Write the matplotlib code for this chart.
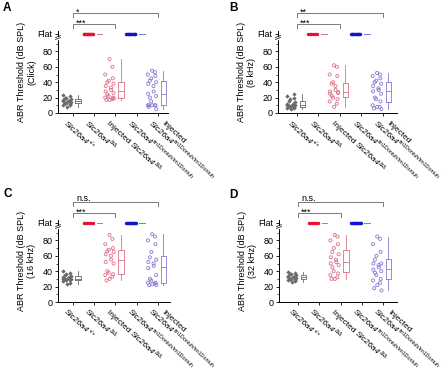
import numpy as np
import matplotlib
matplotlib.use("Agg")
from matplotlib import pyplot as plt
from matplotlib.transforms import ScaledTranslation

plt.rcParams['font.family'] = ['Liberation Sans', 'DejaVu Sans']
plt.rcParams['font.size'] = 6

# thresholds (dB SPL)
wt_click = [8, 10, 11, 12, 13, 13, 14, 15, 15, 16, 17, 18, 19, 20, 22, 24]
inj_del_click = [70, 60, 50, 45, 42, 40, 38, 35, 33, 30, 28, 26, 24, 22, 20, 20, 18, 17, 17, 19]
inj_tm_click = [55, 53, 50, 48, 45, 42, 40, 38, 35, 28, 25, 22, 20, 15, 10, 10, 10, 10, 10, 5, 8]

wt_8k = [5, 6, 7, 8, 8, 9, 10, 10, 11, 12, 12, 14, 15, 18, 20, 22, 25]
inj_del_8k = [62, 60, 50, 48, 40, 38, 27, 25, 35, 30, 28, 26, 22, 20, 18, 15, 12, 8]
inj_tm_8k = [52, 50, 48, 45, 42, 40, 38, 35, 32, 30, 28, 25, 20, 18, 15, 10, 8, 8, 6, 5]

wt_16k = [23, 25, 27, 28, 29, 30, 30, 30, 31, 32, 33, 34, 35, 36, 38, 40]
inj_del_16k = [87, 82, 75, 70, 68, 66, 65, 62, 60, 55, 52, 50, 40, 38, 36, 35, 33, 30, 28]
inj_tm_16k = [88, 85, 80, 75, 65, 58, 55, 52, 50, 47, 44, 35, 30, 28, 25, 25, 24, 23, 22, 22]

wt_32k = [26, 27, 28, 29, 30, 30, 31, 32, 33, 33, 34, 35, 36, 37, 38, 39]
inj_del_32k = [87, 85, 80, 75, 70, 65, 62, 58, 55, 52, 50, 48, 45, 40, 37, 35, 32, 30, 30]
inj_tm_32k = [85, 82, 75, 65, 60, 55, 50, 50, 48, 45, 42, 40, 38, 35, 30, 28, 25, 22, 18, 15]

# animals with no response ("Flat")
flat_del_n = [12, 6, 6, 6]
flat_tm_n = [12, 12, 12, 12]
FLAT = 103

freq_labels = ['(Click)', '(8 kHz)', '(16 kHz)', '(32 kHz)']
panel_letters = ['A', 'B', 'C', 'D']
sig_long = ['*', '**', 'n.s.', 'n.s.']
sig_short = ['***', '***', '***', '***']

# (prefix, gene, superscript) for each group label
group_prefix = ['', '', 'Injected ', '', '']
group_gene = ['Slc26a4'] * 5
group_sup = ['+/+', 'Δ/Δ', 'Δ/Δ', 'tm1Dontuh/tm1Dontuh', 'tm1Dontuh/tm1Dontuh']

W, H = 445, 371
fig = plt.figure(figsize=(W / 100, H / 100), dpi=100)
renderer = fig.canvas.get_renderer()

PX_PER_DB = 0.77
YTOP = 106
ROT = 43

# left spine px, zero-line px, width px, xlim
layout = [(58, 113, 110, (0.30, 5.47)),
          (278, 113, 119, (0.12, 5.65)),
          (58, 302, 112, (0.30, 5.56)),
          (279, 302, 118, (0.11, 5.65))]
letter_pos = [(3, 2), (229, 2), (3, 188), (229, 189)]

c_wt = '#6b6b6b'
c_red = '#e8102a'
c_red_l = '#e07088'
c_blue = '#1414cc'
c_blue_l = '#8578d6'


def text_width(s, size, style='normal'):
    t = fig.text(0, 0, s, fontsize=size, style=style)
    w = t.get_window_extent(renderer).width
    t.remove()
    return w


def jitter(n):
    return -0.28 + 0.2 * np.sin(np.arange(n) * 2.39996)


def rotated_label(ax, x, pieces, start_px):
    # pieces: (text, size, style, raise_px); drawn along a -ROT degree baseline
    ux, uy = np.cos(np.radians(ROT)), -np.sin(np.radians(ROT))
    nx, ny = -uy, ux
    along = 0.0
    for s, size, style, rise in pieces:
        ox = start_px[0] + along * ux + rise * nx
        oy = start_px[1] + along * uy + rise * ny
        tr = ax.transData + ScaledTranslation(ox / 100, oy / 100, fig.dpi_scale_trans)
        ax.text(x, 0, s, fontsize=size, style=style, rotation=-ROT, rotation_mode='anchor',
                ha='left', va='baseline', transform=tr, clip_on=False)
        along += text_width(s, size, style)


def draw_panel(i, wt, inj_del, inj_tm):
    left, y0, width, xlim = layout[i]
    hpx = YTOP * PX_PER_DB
    ax = fig.add_axes([left / W, 1 - y0 / H, width / W, hpx / H])
    ax.set_xlim(*xlim)
    ax.set_ylim(0, YTOP)
    for s in ['top', 'right']:
        ax.spines[s].set_visible(False)
    for s in ['left', 'bottom']:
        ax.spines[s].set_linewidth(0.7)

    # scatter columns
    ax.scatter(1 + jitter(len(wt)), wt, s=5, marker='D', color=c_wt, linewidths=0, zorder=3)
    ax.scatter(3 + jitter(len(inj_del)), inj_del, s=5, facecolors='none', edgecolors=c_red_l,
               linewidths=0.6, zorder=3)
    ax.scatter(5 + jitter(len(inj_tm)), inj_tm, s=5, facecolors='none', edgecolors=c_blue_l,
               linewidths=0.6, zorder=3)
    nd, nt = flat_del_n[i], flat_tm_n[i]
    ax.scatter(2 + np.linspace(-0.5, -0.06, nd), [FLAT] * nd, s=6, color=c_red, linewidths=0,
               zorder=3, clip_on=False)
    ax.scatter(4 + np.linspace(-0.5, -0.06, nt), [FLAT] * nt, s=6, color=c_blue, linewidths=0,
               zorder=3, clip_on=False)

    # boxes
    data = [wt, [FLAT] * nd, inj_del, [FLAT] * nt, inj_tm]
    cols = [c_wt, c_red_l, c_red_l, c_blue_l, c_blue_l]
    for k, (d, c) in enumerate(zip(data, cols)):
        ax.boxplot([d], positions=[k + 1.25], widths=0.26, whis=(0, 100), showcaps=False,
                   showfliers=False, patch_artist=False,
                   boxprops=dict(color=c, linewidth=0.6),
                   whiskerprops=dict(color=c, linewidth=0.6),
                   medianprops=dict(color=c, linewidth=0.6),
                   manage_ticks=False)
    for art in ax.lines:
        art.set_clip_on(False)

    ax.set_xticks([1, 2, 3, 4, 5])
    ax.set_xticklabels([])
    ax.set_yticks([0, 20, 40, 60, 80, FLAT])
    ax.set_yticklabels(['0', '20', '40', '60', '80', 'Flat'])
    ax.set_yticks([10, 30, 50, 70, 90], minor=True)
    ax.tick_params(which='major', length=2.5, width=0.6, pad=1.5, labelsize=6.5)
    ax.tick_params(which='minor', length=1.5, width=0.5)
    ax.set_ylabel('ABR Threshold (dB SPL)\n' + freq_labels[i], fontsize=6.5,
                  labelpad=1, linespacing=1.1)

    # axis break mark
    tr = ax.get_yaxis_transform()
    dx = 2.5 / width
    ax.fill_between([-dx, dx], 96, 98.5, color='white', transform=tr, clip_on=False, zorder=5)
    for yb in (95.5, 98.0):
        ax.plot([-dx, dx], [yb, yb + 2.5], color='black', lw=0.5, transform=tr,
                clip_on=False, zorder=6)

    # x labels
    start = (-9.0, -10.5)
    for k in range(5):
        pieces = []
        if group_prefix[k]:
            pieces.append((group_prefix[k], 6, 'normal', 0))
        pieces.append((group_gene[k], 6, 'italic', 0))
        pieces.append((group_sup[k], 3.8, 'normal', 2.8))
        rotated_label(ax, k + 1, pieces, start)
    rotated_label(ax, 5, [('Injected', 6, 'normal', 0)], (start[0] + 13, start[1]))

    # significance brackets
    gray = '#7a7a7a'
    ax.plot([1, 1, 5, 5], [125, 130, 130, 125], color=gray, lw=0.7, clip_on=False)
    ax.plot([1, 1, 3, 3], [110, 116, 116, 110], color=gray, lw=0.7, clip_on=False)
    off = 1.5 if sig_long[i] == 'n.s.' else -2.5
    ax.text(1.15, 130 + off, sig_long[i], ha='left', va='baseline', fontsize=6.5, clip_on=False)
    ax.text(1.15, 116 - 2.5, sig_short[i], ha='left', va='baseline', fontsize=6.5, clip_on=False)

    lx, ly = letter_pos[i]
    fig.text(lx / W, 1 - ly / H, panel_letters[i], fontsize=8.5, fontweight='bold',
             ha='left', va='top')


draw_panel(0, wt_click, inj_del_click, inj_tm_click)
draw_panel(1, wt_8k, inj_del_8k, inj_tm_8k)
draw_panel(2, wt_16k, inj_del_16k, inj_tm_16k)
draw_panel(3, wt_32k, inj_del_32k, inj_tm_32k)

fig.savefig('out.png', dpi=100)
